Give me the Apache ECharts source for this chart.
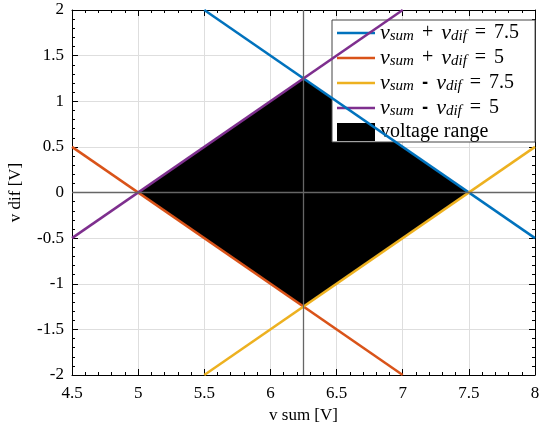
<!DOCTYPE html>
<html>
<head>
<meta charset="utf-8">
<script src="https://cdn.jsdelivr.net/npm/echarts@6/dist/echarts.min.js"></script>
<style>
  html, body { margin: 0; padding: 0; background: #fff; }
  #main { width: 540px; height: 426px; }
</style>
</head>
<body>
<div id="main"></div>
<script>
// axis ranges
var xRange = [4.5, 8];
var yRange = [-2, 2];

// the four boundary lines (end points)
var sumPlus75 = [[5.5, 2], [8, -0.5]];
var sumPlus5 = [[4.5, 0.5], [7, -2]];
var difMinus75 = [[5.5, -2], [8, 0.5]];
var difMinus5 = [[4.5, -0.5], [7, 2]];

// filled diamond
var rangePoly = [[5, 0], [6.25, 1.25], [7.5, 0], [6.25, -1.25]];

// centre cross
var crossX = 6.25;
var crossY = 0;

var names = ['l1', 'l2', 'l3', 'l4', 'range'];
var legendText = {
  l1: '{v|v}{s|sum}{o|+}{v|v}{s|dif}{o|=}{t|7.5}',
  l2: '{v|v}{s|sum}{o|+}{v|v}{s|dif}{o|=}{t|5}',
  l3: '{v|v}{s|sum}{m|-}{v|v}{s|dif}{o|=}{t|7.5}',
  l4: '{v|v}{s|sum}{m|-}{v|v}{s|dif}{o|=}{t|5}',
  range: '{r|voltage range}'
};
var colors = ['#0072BD', '#D95319', '#EDB120', '#7E2F8E'];

var serif = 'Liberation Serif';
var chart = echarts.init(document.getElementById('main'));

function lineSeries(name, data, color) {
  return {
    name: name, type: 'line', data: data, showSymbol: false, symbol: 'none',
    lineStyle: { color: color, width: 2.5 }, itemStyle: { color: color },
    xAxisIndex: 0, yAxisIndex: 0, z: 4, silent: true
  };
}

var axBase = {
  type: 'value',
  axisLine: { show: true, onZero: false, lineStyle: { color: '#000', width: 1 } },
  axisTick: { show: true, inside: true, length: 6, lineStyle: { color: '#000' } },
  minorTick: { show: true, splitNumber: 5, length: 3, lineStyle: { color: '#000' } },
  splitLine: { show: false },
  axisLabel: { show: false }
};

var option = {
  animation: false,
  grid: { left: 72, right: 5, top: 10, bottom: 51, containLabel: false, outerBoundsMode: 'none' },
  legend: {
    orient: 'vertical',
    left: 332, top: 20,
    data: names.map(function (n) {
      return n === 'range' ? { name: n, icon: 'rect' } : { name: n, icon: 'path://M0,0 H38 V2.6 H0 Z' };
    }),
    itemWidth: 38, itemHeight: 18, itemGap: 3,
    backgroundColor: '#fff', borderColor: '#444', borderWidth: 1,
    padding: [2, 16, 0, 5],
    formatter: function (n) { return legendText[n]; },
    textStyle: {
      color: '#000',
      rich: {
        v: { fontFamily: serif, fontStyle: 'italic', fontSize: 22, color: '#000', lineHeight: 20 },
        s: { fontFamily: serif, fontStyle: 'italic', fontSize: 15, color: '#000', padding: [7, 0, 0, 0], lineHeight: 14 },
        t: { fontFamily: serif, fontSize: 20, color: '#000', lineHeight: 20 },
        o: { fontFamily: serif, fontSize: 20, color: '#000', padding: [0, 8, 0, 8], lineHeight: 20 },
        m: { fontFamily: 'DejaVu Sans', fontSize: 15, fontWeight: 'bold', color: '#000', padding: [0, 8, 0, 8], lineHeight: 20 },
        r: { fontFamily: serif, fontSize: 20, color: '#000', lineHeight: 20 }
      }
    }
  },
  xAxis: [
    Object.assign({}, axBase, {
      min: xRange[0], max: xRange[1], interval: 0.5, position: 'bottom',
      name: 'v sum [V]', nameLocation: 'middle', nameGap: 29,
      nameTextStyle: { fontFamily: serif, fontSize: 17, color: '#000' },
      splitLine: { show: true, lineStyle: { color: '#dedede', width: 1 } },
      axisLabel: { show: true, fontFamily: serif, fontSize: 17, color: '#000', margin: 10 }
    }),
    Object.assign({}, axBase, { min: xRange[0], max: xRange[1], interval: 0.5, position: 'top' })
  ],
  yAxis: [
    Object.assign({}, axBase, {
      min: yRange[0], max: yRange[1], interval: 0.5, position: 'left',
      name: 'v dif [V]', nameLocation: 'middle', nameGap: 48,
      nameTextStyle: { fontFamily: serif, fontSize: 17, color: '#000' },
      splitLine: { show: true, lineStyle: { color: '#dedede', width: 1 } },
      axisLabel: { show: true, fontFamily: serif, fontSize: 17, color: '#000', margin: 8 }
    }),
    Object.assign({}, axBase, { min: yRange[0], max: yRange[1], interval: 0.5, position: 'right' })
  ],
  series: [
    {
      name: 'range', type: 'custom', coordinateSystem: 'cartesian2d',
      xAxisIndex: 0, yAxisIndex: 0, z: 2, silent: true,
      itemStyle: { color: '#000' },
      data: [0],
      renderItem: function (params, api) {
        return {
          type: 'polygon',
          shape: { points: rangePoly.map(function (p) { return api.coord(p); }) },
          style: { fill: '#000' }
        };
      }
    },
    {
      name: 'cross', type: 'line', data: [], z: 3, silent: true,
      markLine: {
        symbol: 'none', silent: true, animation: false,
        label: { show: false },
        lineStyle: { color: '#666', width: 1.3, type: 'solid' },
        data: [{ xAxis: crossX }, { yAxis: crossY }]
      }
    },
    lineSeries('l1', sumPlus75, colors[0]),
    lineSeries('l2', sumPlus5, colors[1]),
    lineSeries('l3', difMinus75, colors[2]),
    lineSeries('l4', difMinus5, colors[3])
  ]
};
chart.setOption(option);
</script>
</body>
</html>
